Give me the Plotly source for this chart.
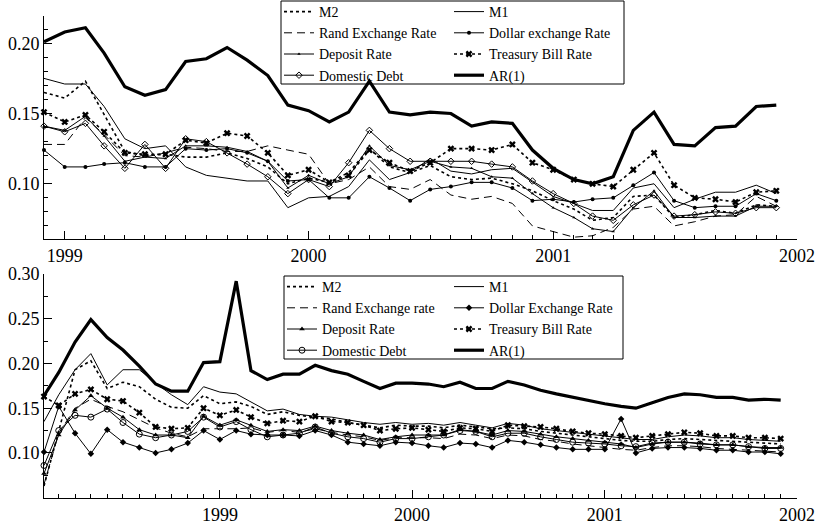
import plotly.graph_objects as go
import pandas as pd

# ---------------- data ----------------
top_months = [d.strftime("%Y-%m-%d") for d in pd.date_range("1998-12-01", "2001-12-01", freq="MS")]
bot_months = [d.strftime("%Y-%m-%d") for d in pd.date_range("1998-02-01", "2001-12-01", freq="MS")]

top_m2 = [0.165, 0.161, 0.173, 0.149, 0.123, 0.120, 0.121, 0.119, 0.119, 0.122, 0.118, 0.112, 0.100,
          0.104, 0.101, 0.108, 0.125, 0.112, 0.108, 0.113, 0.105, 0.103, 0.104, 0.100, 0.095,
          0.088, 0.082, 0.074, 0.076, 0.091, 0.092, 0.076, 0.078, 0.081, 0.079, 0.085, 0.084]
top_m1 = [0.175, 0.171, 0.171, 0.155, 0.132, 0.125, 0.127, 0.112, 0.106, 0.104, 0.102, 0.102, 0.083,
          0.090, 0.091, 0.098, 0.117, 0.103, 0.108, 0.118, 0.109, 0.107, 0.110, 0.111, 0.101,
          0.091, 0.086, 0.081, 0.081, 0.097, 0.100, 0.083, 0.089, 0.094, 0.094, 0.099, 0.093]
top_rand = [0.128, 0.128, 0.147, 0.135, 0.120, 0.119, 0.122, 0.126, 0.125, 0.123, 0.123, 0.127, 0.124,
            0.121, 0.100, 0.103, 0.112, 0.098, 0.096, 0.103, 0.092, 0.089, 0.091, 0.086, 0.070,
            0.066, 0.062, 0.063, 0.069, 0.082, 0.084, 0.070, 0.073, 0.077, 0.078, 0.091, 0.084]
top_dollar = [0.124, 0.112, 0.112, 0.114, 0.115, 0.112, 0.112, 0.125, 0.124, 0.125, 0.122, 0.116, 0.102,
              0.103, 0.090, 0.090, 0.105, 0.097, 0.088, 0.096, 0.098, 0.101, 0.101, 0.097, 0.088,
              0.089, 0.087, 0.089, 0.090, 0.099, 0.108, 0.088, 0.083, 0.084, 0.084, 0.093, 0.088]
top_deposit = [0.141, 0.138, 0.148, 0.134, 0.116, 0.119, 0.118, 0.127, 0.127, 0.126, 0.123, 0.116, 0.097,
               0.106, 0.100, 0.105, 0.127, 0.113, 0.110, 0.116, 0.112, 0.111, 0.105, 0.104, 0.093,
               0.083, 0.076, 0.068, 0.066, 0.083, 0.095, 0.076, 0.076, 0.077, 0.077, 0.084, 0.084]
top_tbill = [0.151, 0.144, 0.149, 0.137, 0.122, 0.121, 0.121, 0.131, 0.129, 0.136, 0.134, 0.122, 0.106,
             0.110, 0.101, 0.106, 0.124, 0.115, 0.109, 0.115, 0.125, 0.125, 0.124, 0.128, 0.115,
             0.110, 0.103, 0.100, 0.098, 0.110, 0.122, 0.099, 0.090, 0.089, 0.087, 0.094, 0.095]
top_debt = [0.141, 0.137, 0.143, 0.127, 0.111, 0.128, 0.111, 0.132, 0.130, 0.122, 0.114, 0.105, 0.093,
            0.103, 0.098, 0.115, 0.138, 0.125, 0.116, 0.116, 0.116, 0.116, 0.114, 0.112, 0.102,
            0.093, 0.086, 0.077, 0.074, 0.085, 0.092, 0.077, 0.078, 0.080, 0.079, 0.083, 0.083]
top_ar1 = [0.201, 0.208, 0.211, 0.193, 0.169, 0.163, 0.167, 0.187, 0.189, 0.197, 0.188, 0.177, 0.156,
           0.152, 0.144, 0.151, 0.173, 0.151, 0.149, 0.151, 0.150, 0.141, 0.144, 0.143, 0.124,
           0.111, 0.103, 0.100, 0.105, 0.138, 0.151, 0.128, 0.127, 0.140, 0.141, 0.155, 0.156]

bot_m2 = [0.063, 0.125, 0.193, 0.203, 0.172, 0.179, 0.174, 0.160, 0.151, 0.150, 0.164, 0.155, 0.157, 0.152, 0.143, 0.146,
          0.142, 0.140, 0.138, 0.134, 0.131, 0.128, 0.131, 0.130, 0.130, 0.128, 0.131, 0.129, 0.127, 0.128, 0.127, 0.124,
          0.122, 0.120, 0.118, 0.116, 0.114, 0.113, 0.113, 0.115, 0.116, 0.115, 0.114, 0.113, 0.112, 0.111, 0.110]
bot_m1 = [0.135, 0.165, 0.193, 0.211, 0.176, 0.193, 0.193, 0.178, 0.165, 0.154, 0.174, 0.168, 0.166, 0.157, 0.147, 0.149,
          0.143, 0.141, 0.140, 0.137, 0.134, 0.132, 0.134, 0.132, 0.133, 0.131, 0.134, 0.131, 0.128, 0.133, 0.131, 0.127,
          0.125, 0.123, 0.121, 0.119, 0.117, 0.115, 0.115, 0.118, 0.120, 0.119, 0.117, 0.117, 0.115, 0.114, 0.113]
bot_rand = [0.065, 0.122, 0.150, 0.160, 0.152, 0.146, 0.137, 0.128, 0.122, 0.118, 0.127, 0.127, 0.127, 0.128, 0.123, 0.125,
            0.123, 0.127, 0.123, 0.120, 0.118, 0.114, 0.117, 0.117, 0.117, 0.116, 0.121, 0.120, 0.116, 0.120, 0.119, 0.115,
            0.113, 0.110, 0.108, 0.106, 0.104, 0.103, 0.106, 0.108, 0.108, 0.107, 0.105, 0.104, 0.103, 0.102, 0.101]
bot_dollar = [0.101, 0.152, 0.122, 0.099, 0.126, 0.112, 0.106, 0.100, 0.104, 0.111, 0.125, 0.115, 0.125, 0.121, 0.120, 0.120,
              0.119, 0.125, 0.120, 0.112, 0.110, 0.108, 0.112, 0.111, 0.108, 0.106, 0.111, 0.110, 0.106, 0.114, 0.112, 0.109,
              0.106, 0.104, 0.104, 0.104, 0.138, 0.100, 0.105, 0.106, 0.106, 0.105, 0.103, 0.103, 0.101, 0.101, 0.099]
bot_deposit = [0.077, 0.120, 0.148, 0.164, 0.150, 0.140, 0.126, 0.120, 0.120, 0.117, 0.141, 0.131, 0.137, 0.131, 0.124, 0.126,
               0.125, 0.130, 0.125, 0.122, 0.120, 0.115, 0.118, 0.120, 0.120, 0.120, 0.126, 0.124, 0.120, 0.125, 0.124, 0.121,
               0.118, 0.116, 0.114, 0.112, 0.110, 0.106, 0.110, 0.112, 0.112, 0.111, 0.109, 0.109, 0.107, 0.106, 0.106]
bot_tbill = [0.163, 0.153, 0.166, 0.171, 0.160, 0.158, 0.145, 0.129, 0.127, 0.128, 0.150, 0.142, 0.148, 0.140, 0.133, 0.136,
             0.135, 0.141, 0.135, 0.134, 0.131, 0.125, 0.127, 0.128, 0.126, 0.124, 0.128, 0.127, 0.124, 0.131, 0.130, 0.129,
             0.127, 0.124, 0.122, 0.121, 0.119, 0.117, 0.119, 0.121, 0.123, 0.122, 0.119, 0.119, 0.117, 0.117, 0.116]
bot_debt = [0.086, 0.125, 0.142, 0.140, 0.149, 0.134, 0.121, 0.117, 0.120, 0.124, 0.140, 0.129, 0.135, 0.126, 0.118, 0.120,
            0.122, 0.129, 0.122, 0.118, 0.116, 0.112, 0.116, 0.116, 0.118, 0.120, 0.125, 0.124, 0.118, 0.122, 0.122, 0.118,
            0.115, 0.112, 0.111, 0.110, 0.108, 0.107, 0.111, 0.112, 0.112, 0.110, 0.109, 0.109, 0.107, 0.105, 0.105]
bot_ar1 = [0.164, 0.190, 0.224, 0.249, 0.229, 0.215, 0.197, 0.177, 0.169, 0.169, 0.201, 0.202, 0.292, 0.192, 0.182, 0.188,
           0.188, 0.198, 0.192, 0.188, 0.180, 0.172, 0.178, 0.178, 0.177, 0.174, 0.179, 0.172, 0.172, 0.180, 0.176, 0.170,
           0.166, 0.162, 0.159, 0.155, 0.152, 0.150, 0.156, 0.162, 0.166, 0.165, 0.162, 0.162, 0.159, 0.160, 0.159]

top_names = ["M2", "M1", "Rand Exchange Rate", "Dollar exchange Rate",
             "Deposit Rate", "Treasury Bill Rate", "Domestic Debt", "AR(1)"]
bot_names = ["M2", "M1", "Rand Exchange rate", "Dollar Exchange Rate",
             "Deposit Rate", "Treasury Bill Rate", "Domestic Debt", "AR(1)"]
year_ticks = ["1999-01-01", "2000-01-01", "2001-01-01", "2002-01-01"]
year_labels = ["1999", "2000", "2001", "2002"]

# ---------------- figure ----------------
FONT = "Liberation Serif"
W, H = 819, 526
ML, MR, MT, MB = 44, 22, 16, 28
PW, PH = W - ML - MR, H - MT - MB


def px_x(p):
    return (p - ML) / PW


def px_y(p):
    return (H - MB - p) / PH


fig = go.Figure()


def add_panel(months, series, names, xa, ya, leg_a, leg_b, top):
    m2, m1, rand, dollar, deposit, tbill, debt, ar1 = series
    K = "black"
    specs = [
        (m2, names[0], dict(color=K, width=1.6, dash="dot"), None, leg_a),
        (rand, names[2], dict(color=K, width=1, dash="8px,5px"), None, leg_a),
        (deposit, names[4], dict(color=K, width=1),
         dict(symbol="triangle-up", size=3 if top else 5, color=K), leg_a),
        (debt, names[6], dict(color=K, width=1),
         dict(symbol="diamond-open" if top else "circle-open", size=5 if top else 6,
              color=K, line=dict(width=1, color=K)), leg_a),
        (m1, names[1], dict(color=K, width=1), None, leg_b),
        (dollar, names[3], dict(color=K, width=1),
         dict(symbol="circle" if top else "diamond", size=4 if top else 5, color=K), leg_b),
        (tbill, names[5], dict(color=K, width=1.6, dash="dot"),
         dict(symbol="x", size=6, color=K, line=dict(width=0)), leg_b),
        (ar1, names[7], dict(color=K, width=3.2), None, leg_b),
    ]
    for vals, nm, line, marker, leg in specs:
        fig.add_trace(go.Scatter(
            x=months, y=vals, name=nm, xaxis=xa, yaxis=ya,
            mode="lines+markers" if marker else "lines",
            line=line, marker=marker, legend=leg, cliponaxis=False,
            hoverinfo="x+y+name"))


add_panel(top_months, [top_m2, top_m1, top_rand, top_dollar, top_deposit, top_tbill, top_debt, top_ar1],
          top_names, "x", "y", "legend", "legend2", True)
add_panel(bot_months, [bot_m2, bot_m1, bot_rand, bot_dollar, bot_deposit, bot_tbill, bot_debt, bot_ar1],
          bot_names, "x2", "y2", "legend3", "legend4", False)

tick_font = dict(family=FONT, size=18, color="black")
leg_font = dict(family=FONT, size=14, color="black")

common_x = dict(type="date", showgrid=False, zeroline=False, showline=True, linecolor="black",
                linewidth=1, ticks="inside", ticklen=8, tickwidth=1, tickcolor="black",
                tickvals=year_ticks, ticktext=year_labels, tickfont=tick_font,
                minor=dict(dtick="M1", tick0="1998-01-01", ticks="inside", ticklen=4,
                           tickwidth=1, tickcolor="black", showgrid=False))
common_y = dict(showgrid=False, zeroline=False, showline=True, linecolor="black", linewidth=1,
                ticks="inside", ticklen=8, tickwidth=1, tickcolor="black", tickfont=tick_font,
                tickformat=".2f")

top_y0, top_y1 = px_y(239), 1.0
bot_y0, bot_y1 = 0.0, px_y(274)

fig.update_layout(
    width=W, height=H,
    margin=dict(l=ML, r=MR, t=MT, b=MB, autoexpand=False),
    paper_bgcolor="white", plot_bgcolor="white",
    font=dict(family=FONT, color="black"),
    xaxis=dict(common_x, domain=[0, 1], range=["1998-12-01", "2002-01-01"], anchor="y"),
    yaxis=dict(common_y, domain=[top_y0, top_y1], range=[0.0607, 0.2194],
               tickvals=[0.10, 0.15, 0.20],
               minor=dict(dtick=0.01, tick0=0.0, ticks="inside", ticklen=4, tickwidth=1,
                          tickcolor="black", showgrid=False), anchor="x"),
    xaxis2=dict(common_x, domain=[0, 1], range=["1998-02-01", "2002-01-01"], anchor="y2"),
    yaxis2=dict(common_y, domain=[bot_y0, bot_y1], range=[0.0496, 0.30],
                tickvals=[0.10, 0.15, 0.20, 0.25, 0.30],
                minor=dict(dtick=0.025, tick0=0.0, ticks="inside", ticklen=4, tickwidth=1,
                           tickcolor="black", showgrid=False), anchor="x2"),
    legend=dict(x=px_x(279), y=px_y(-4), xanchor="left", yanchor="top", font=leg_font,
                bgcolor="rgba(0,0,0,0)", borderwidth=0, tracegroupgap=0, itemwidth=30),
    legend2=dict(x=px_x(449), y=px_y(-4), xanchor="left", yanchor="top", font=leg_font,
                 bgcolor="rgba(0,0,0,0)", borderwidth=0, tracegroupgap=0, itemwidth=30),
    legend3=dict(x=px_x(282), y=px_y(271), xanchor="left", yanchor="top", font=leg_font,
                 bgcolor="rgba(0,0,0,0)", borderwidth=0, tracegroupgap=0, itemwidth=30),
    legend4=dict(x=px_x(449), y=px_y(271), xanchor="left", yanchor="top", font=leg_font,
                 bgcolor="rgba(0,0,0,0)", borderwidth=0, tracegroupgap=0, itemwidth=30),
    shapes=[
        dict(type="rect", xref="paper", yref="paper", x0=px_x(281), x1=px_x(624),
             y0=px_y(84), y1=px_y(1), line=dict(color="black", width=1),
             fillcolor="white", layer="below"),
        dict(type="rect", xref="paper", yref="paper", x0=px_x(284), x1=px_x(623),
             y0=px_y(359), y1=px_y(276), line=dict(color="black", width=1),
             fillcolor="white", layer="below"),
    ],
    showlegend=True,
)

fig.write_html("out.html", config={"displayModeBar": False},
               post_script="document.body.style.margin='0px';")
